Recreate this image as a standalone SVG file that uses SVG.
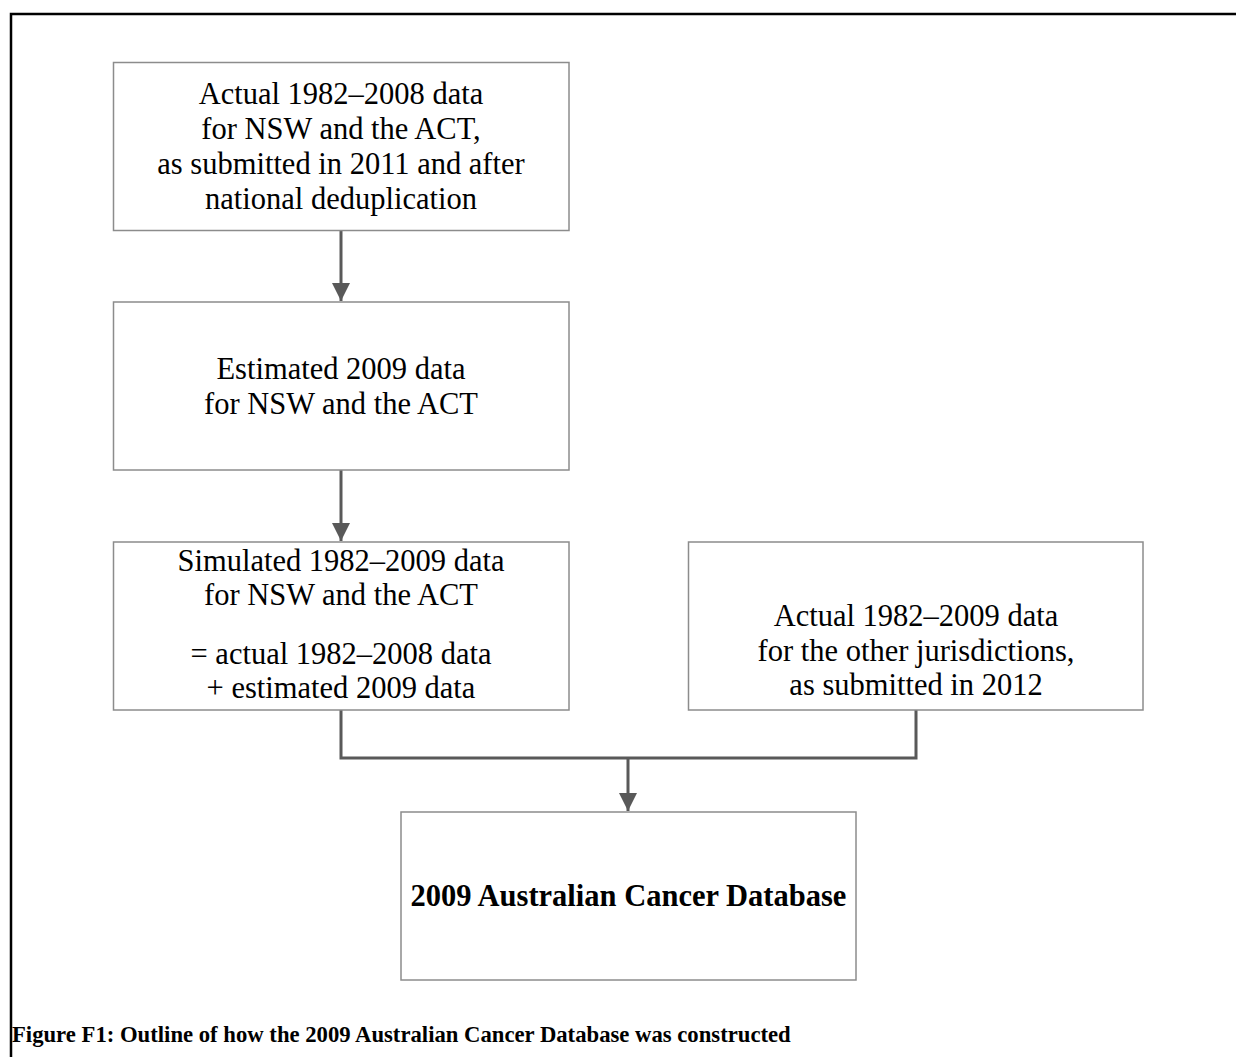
<svg xmlns="http://www.w3.org/2000/svg" width="1236" height="1057" viewBox="0 0 1236 1057">
<style>
.box{fill:#fff;stroke:#8c8c8c;stroke-width:1.5}
.t{font-family:"Liberation Serif","Times New Roman",serif;font-size:30.5px;fill:#000;text-anchor:middle}
.b{font-weight:bold}
.c{fill:none;stroke:#595959;stroke-width:3}
</style>
<defs>
<marker id="ah" viewBox="0 0 10 10" refX="10" refY="5" markerWidth="6" markerHeight="6" markerUnits="strokeWidth" orient="auto">
<path d="M0,0 L10,5 L0,10 z" fill="#595959"/>
</marker>
</defs>
<rect width="1236" height="1057" fill="#fff"/>
<path d="M11,1057 V14 H1236" fill="none" stroke="#000" stroke-width="2.5"/>
<g id="connectors">
<line class="c" x1="341" y1="230" x2="341" y2="301" marker-end="url(#ah)"/>
<line class="c" x1="341" y1="470" x2="341" y2="541" marker-end="url(#ah)"/>
<path class="c" d="M341,710 V758 H916 V710"/>
<line class="c" x1="628" y1="758" x2="628" y2="811" marker-end="url(#ah)"/>
</g>
<g id="n1">
<rect class="box" x="113.5" y="62.5" width="455.5" height="168"/>
<text class="t" x="341" y="104">Actual 1982–2008 data</text>
<text class="t" x="341" y="139">for NSW and the ACT,</text>
<text class="t" x="341" y="174">as submitted in 2011 and after</text>
<text class="t" x="341" y="209">national deduplication</text>
</g>
<g id="n2">
<rect class="box" x="113.5" y="302" width="455.5" height="168"/>
<text class="t" x="341" y="379">Estimated 2009 data</text>
<text class="t" x="341" y="414">for NSW and the ACT</text>
</g>
<g id="n3">
<rect class="box" x="113.5" y="542" width="455.5" height="168"/>
<text class="t" x="341" y="571">Simulated 1982–2009 data</text>
<text class="t" x="341" y="605">for NSW and the ACT</text>
<text class="t" x="341" y="664">= actual 1982–2008 data</text>
<text class="t" x="341" y="698">+ estimated 2009 data</text>
</g>
<g id="n4">
<rect class="box" x="688.5" y="542" width="454.5" height="168"/>
<text class="t" x="916" y="626">Actual 1982–2009 data</text>
<text class="t" x="916" y="661">for the other jurisdictions,</text>
<text class="t" x="916" y="695">as submitted in 2012</text>
</g>
<g id="n5">
<rect class="box" x="401" y="812" width="455" height="168"/>
<text class="t b" x="628.5" y="906">2009 Australian Cancer Database</text>
</g>
<text class="t b" x="12" y="1042" style="text-anchor:start;font-size:22.7px">Figure F1: Outline of how the 2009 Australian Cancer Database was constructed</text>
</svg>
